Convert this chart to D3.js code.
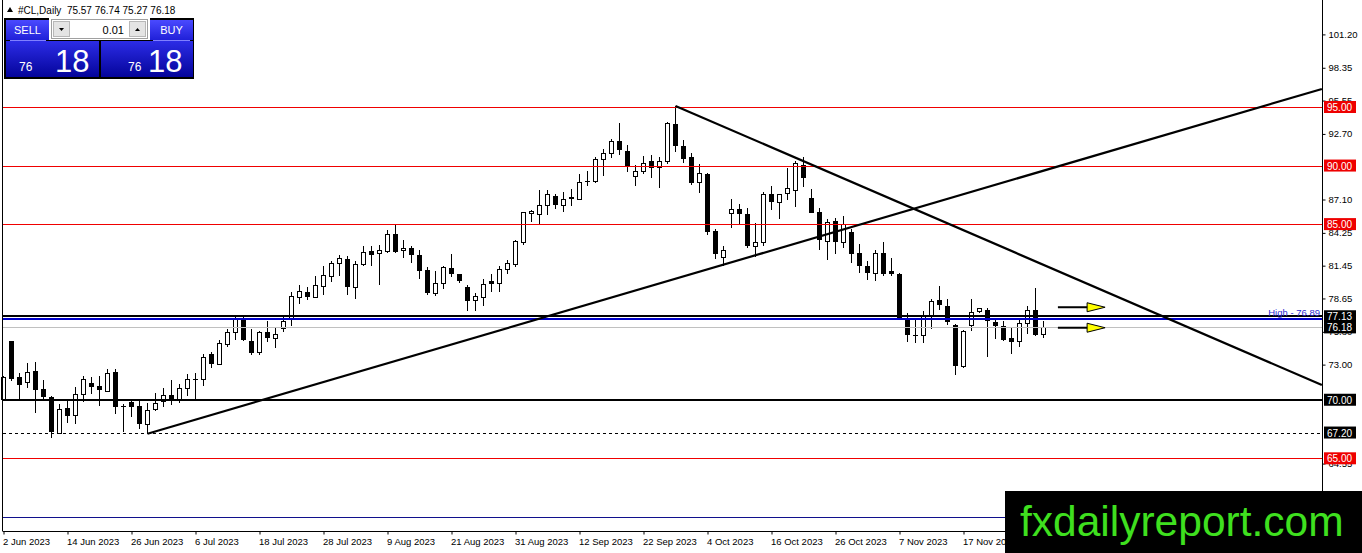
<!DOCTYPE html>
<html>
<head>
<meta charset="utf-8">
<script src="https://cdnjs.cloudflare.com/ajax/libs/d3/7.8.5/d3.min.js"></script>
<style>
  body { margin: 0; background: #fff; }
  svg { display: block; }
  text { font-family: "Liberation Sans", Arial, sans-serif; }
</style>
</head>
<body>
<div id="svg-div"></div>
<script>
// daily candles, one per weekday starting 2 Jun 2023
const opens = [70.04,75.00,71.94,71.51,72.45,70.89,70.23,67.12,69.27,68.68,
  70.46,71.46,71.17,70.74,72.36,69.47,69.81,69.47,67.92,69.19,
  69.81,70.38,70.04,70.98,71.80,71.74,73.91,73.02,74.72,75.71,
  76.98,75.00,74.00,75.77,75.20,76.05,76.93,78.74,79.20,78.77,
  79.68,80.53,81.61,82.00,79.62,81.58,82.72,82.46,82.66,84.17,
  82.72,83.00,82.38,81.10,79.11,79.91,81.24,80.73,79.60,78.46,
  78.77,80.11,79.91,81.15,81.53,83.43,85.90,85.78,86.57,87.40,
  86.63,87.34,87.11,88.70,88.62,90.55,91.03,92.08,91.23,89.10,
  89.47,90.38,89.81,90.32,93.53,91.68,90.74,88.53,89.32,84.42,
  82.17,85.87,86.30,85.87,83.09,83.43,87.57,86.86,87.62,87.91,
  90.04,87.26,86.06,83.51,85.27,83.43,84.30,82.57,81.38,80.81,
  82.57,81.02,80.76,76.98,75.57,75.49,77.13,78.49,78.04,76.42,
  72.81,76.36,77.50,77.64,76.62,76.28,75.28,74.94,76.50,77.70,
  75.57];
const highs = [72.00,75.05,72.30,73.15,73.24,71.68,70.30,69.62,69.96,71.09,
  72.02,71.96,72.02,72.59,72.59,69.64,69.96,69.90,69.76,70.60,
  71.03,71.68,71.37,72.17,72.25,73.91,74.06,75.06,76.05,77.27,
  77.19,76.00,75.91,76.70,76.13,77.19,79.20,79.83,79.60,80.53,
  81.38,81.87,82.38,82.29,81.87,83.17,83.17,83.23,84.51,84.93,
  83.65,83.09,82.80,81.30,80.96,81.44,82.43,80.75,79.83,79.11,
  80.34,80.73,81.38,81.95,83.65,86.06,86.20,87.91,87.91,87.54,
  87.77,88.00,89.32,89.53,90.74,91.45,92.25,93.64,91.79,90.04,
  90.83,90.89,90.74,93.72,95.09,92.17,91.03,90.17,89.40,84.60,
  83.17,87.14,86.72,86.34,85.13,87.77,88.28,87.60,89.75,90.38,
  90.74,87.96,86.34,85.44,85.50,85.72,84.60,83.28,81.81,82.80,
  83.51,82.09,80.81,77.41,76.98,77.61,78.63,79.68,78.63,76.47,
  75.94,78.63,77.85,77.83,76.93,76.76,76.19,76.98,77.98,79.54,
  76.74];
const lows = [69.90,71.60,70.04,70.97,68.90,70.04,66.72,67.05,68.00,67.92,
  69.84,70.46,69.47,70.66,68.82,67.28,68.54,67.50,67.07,69.04,
  69.42,69.55,69.75,70.32,70.04,71.17,72.73,72.98,74.52,75.14,
  75.00,73.78,73.78,74.91,74.43,75.77,76.34,78.21,78.49,78.68,
  78.97,80.02,80.53,78.97,78.63,81.38,81.44,79.83,82.51,82.51,
  82.09,81.66,80.34,78.97,78.89,79.49,80.45,79.96,77.55,77.55,
  77.98,79.20,79.20,80.73,81.30,83.23,85.15,84.93,85.78,86.30,
  86.06,86.57,87.06,88.25,88.47,89.13,90.66,90.89,89.47,88.25,
  89.24,88.90,88.05,90.17,91.17,90.23,88.34,87.68,84.08,82.04,
  81.38,84.70,84.98,82.94,82.23,83.17,86.21,85.44,87.06,86.49,
  88.19,85.92,82.80,81.95,82.43,83.00,81.66,80.81,80.25,80.11,
  80.53,80.53,76.98,74.94,74.86,74.86,76.08,77.70,76.36,72.11,
  72.73,75.85,77.45,73.64,75.23,75.00,73.92,74.49,75.62,75.43,
  75.27];
const closes = [71.88,71.74,71.26,72.36,70.83,70.26,67.28,69.19,68.57,70.46,
  71.74,71.12,70.83,72.25,69.42,69.45,69.42,67.92,69.11,69.70,
  70.38,69.96,70.98,71.74,71.74,73.57,73.09,74.77,75.71,76.98,
  75.09,74.00,75.71,75.28,75.57,76.70,78.83,79.26,78.77,79.74,
  80.59,81.61,82.04,79.62,81.58,82.57,82.38,82.74,84.08,82.66,
  82.94,82.38,80.96,79.11,79.96,81.32,80.73,80.11,78.40,78.83,
  79.88,79.88,81.15,81.61,83.51,85.98,86.05,86.63,87.49,86.63,
  87.06,87.14,88.56,88.56,90.55,91.03,92.08,91.31,89.89,89.47,
  90.17,89.81,90.38,93.58,91.66,90.60,88.47,89.32,84.36,82.46,
  82.72,86.21,85.87,83.09,83.43,87.57,86.86,87.57,88.05,90.17,
  88.90,85.98,83.66,85.15,83.43,84.98,82.43,81.38,80.81,82.51,
  80.76,80.76,76.98,75.49,75.43,77.21,78.40,78.12,76.64,72.87,
  75.79,77.47,77.75,76.70,76.28,75.06,74.94,76.50,77.61,75.49,
  76.18];

// date labels, one every 8 bars
const dateLabels = ['2 Jun 2023', '14 Jun 2023', '26 Jun 2023', '6 Jul 2023', '18 Jul 2023',
  '28 Jul 2023', '9 Aug 2023', '21 Aug 2023', '31 Aug 2023', '12 Sep 2023', '22 Sep 2023',
  '4 Oct 2023', '16 Oct 2023', '26 Oct 2023', '7 Nov 2023', '17 Nov 2023'];
// price scale labels (the ones not hidden behind level tags)
const priceTicks = [101.20, 98.35, 95.55, 92.70, 87.10, 84.25, 81.45, 78.65, 75.80,
  73.00, 64.55];

// horizontal levels
const redLevels = [95.00, 90.00, 85.00, 65.00];
const resistance = 77.13;
const sessionHigh = 76.89;
const bidPrice = 76.18;
const support = 70.00;
const dashedSupport = 67.20;
const blueLevel = 60.00;

// trendlines [barIndex, price]
const trendUp = [[18, 67.10], [164.8, 96.54]];
const trendDown = [[84, 95.09], [164.8, 71.26]];
// arrows: start bar, end bar, price
const arrows = [[131.8, 137.7, 77.90], [131.8, 137.7, 76.15]];

const width = 1362;
const height = 553;
const plotLeft = 2.5;
const plotRight = 1322;
const plotBottom = 531;

const xScale = d3.scaleLinear()
                 .domain([0, 130])
                 .range([3.5, 1043.5]);
const yScale = d3.scaleLinear()
                 .domain([95, 65])
                 .range([107, 458.3]);

const svg = d3.select('#svg-div')
              .append('svg')
                .attr('width', width)
                .attr('height', height);

svg.append('rect').attr('width', width).attr('height', height).attr('fill', '#fff');

const candles = opens.map((o, i) => ({i: i, o: o, h: highs[i], l: lows[i], c: closes[i]}));

// candles
const chart = svg.append('g').attr('shape-rendering', 'crispEdges');
chart.selectAll('line.wick')
     .data(candles)
     .enter()
       .append('line')
         .attr('x1', d => xScale(d.i))
         .attr('x2', d => xScale(d.i))
         .attr('y1', d => yScale(d.h))
         .attr('y2', d => yScale(d.l))
         .attr('stroke', '#000')
         .attr('stroke-width', 1);

chart.selectAll('rect.body')
     .data(candles)
     .enter()
       .append('rect')
         .attr('x', d => d.c >= d.o ? xScale(d.i) - 2 : xScale(d.i) - 2.5)
         .attr('width', d => d.c >= d.o ? 4 : 5)
         .attr('y', d => yScale(Math.max(d.o, d.c)))
         .attr('height', d => Math.max(1, Math.abs(yScale(d.o) - yScale(d.c))))
         .attr('fill', d => d.c >= d.o ? '#fff' : '#000')
         .attr('stroke', d => d.c >= d.o ? '#000' : 'none')
         .attr('stroke-width', 1);

// horizontal lines
const lines = svg.append('g').attr('shape-rendering', 'crispEdges');
const hline = (price, color, w, dash) => {
    const y = Math.round(yScale(price)) + (w % 2 ? 0.5 : 0);
    lines.append('line')
         .attr('x1', plotLeft).attr('x2', plotRight)
         .attr('y1', y).attr('y2', y)
         .attr('stroke', color)
         .attr('stroke-width', w)
         .attr('stroke-dasharray', dash || null);
};
hline(bidPrice, '#c0c0c0', 1);
redLevels.forEach(p => hline(p, '#f00000', 1));
hline(resistance, '#000', 2);
hline(sessionHigh, '#0000c8', 2);
hline(support, '#000', 2);
hline(dashedSupport, '#000', 1, '3,3');
hline(blueLevel, '#10108c', 1);

svg.append('text')
   .attr('x', 1320)
   .attr('y', yScale(sessionHigh) - 3)
   .attr('text-anchor', 'end')
   .attr('font-size', 9.5)
   .attr('fill', '#2b2bd0')
   .text('High - ' + sessionHigh.toFixed(2));

// trendlines
[trendUp, trendDown].forEach(t => {
    svg.append('line')
       .attr('x1', xScale(t[0][0])).attr('y1', yScale(t[0][1]))
       .attr('x2', xScale(t[1][0])).attr('y2', yScale(t[1][1]))
       .attr('stroke', '#000')
       .attr('stroke-width', 2.2);
});

// arrows
arrows.forEach(a => {
    const x1 = xScale(a[0]);
    const x2 = xScale(a[1]);
    const y = yScale(a[2]);
    svg.append('line')
       .attr('x1', x1).attr('x2', x2 - 17)
       .attr('y1', y).attr('y2', y)
       .attr('stroke', '#000')
       .attr('stroke-width', 2);
    svg.append('path')
       .attr('d', `M${x2 - 18},${y - 4.5}L${x2},${y}L${x2 - 18},${y + 4.5}Z`)
       .attr('fill', '#ffff00')
       .attr('stroke', '#000')
       .attr('stroke-width', 1);
});

// frame
svg.append('line').attr('x1', plotLeft).attr('x2', plotLeft).attr('y1', 0).attr('y2', plotBottom)
   .attr('stroke', '#000');
svg.append('line').attr('x1', plotRight + 0.5).attr('x2', plotRight + 0.5).attr('y1', 0).attr('y2', plotBottom)
   .attr('stroke', '#000');

// y-axis
const yAxis = svg.append('g')
                 .attr('transform', `translate(${plotRight + 0.5}, 0)`)
                 .call(d3.axisRight(yScale)
                         .tickValues(priceTicks)
                         .tickSize(3)
                         .tickPadding(3)
                         .tickFormat(d3.format('.2f')));
yAxis.select('.domain').remove();
yAxis.selectAll('text').attr('font-size', 9.5).attr('font-family', '"Liberation Sans", Arial, sans-serif').attr('fill', '#000');

// level labels on the price scale
const levelTags = redLevels.map(p => ({p: p, red: true}))
    .concat([resistance, bidPrice, support, dashedSupport].map(p => ({p: p, red: false})));
const tags = svg.append('g').selectAll('g')
                .data(levelTags)
                .enter()
                  .append('g')
                    .attr('transform', d => `translate(${plotRight + 2}, ${yScale(d.p)})`);
tags.append('rect')
    .attr('x', 0).attr('y', -6)
    .attr('width', 32).attr('height', 12)
    .attr('fill', d => d.red ? '#ee0000' : '#000');
tags.append('text')
    .attr('x', 3).attr('y', 4)
    .attr('font-size', 10)
    .attr('fill', '#fff')
    .text(d => d.p.toFixed(2));

// x-axis
svg.append('line').attr('x1', plotLeft).attr('x2', plotRight).attr('y1', plotBottom + 0.5).attr('y2', plotBottom + 0.5)
   .attr('stroke', '#000');
const xAxis = svg.append('g')
                 .attr('transform', `translate(0, ${plotBottom + 0.5})`)
                 .call(d3.axisBottom(xScale)
                         .tickValues(dateLabels.map((d, i) => i * 8))
                         .tickSize(3)
                         .tickPadding(4)
                         .tickFormat((d, i) => dateLabels[i]));
xAxis.select('.domain').remove();
xAxis.selectAll('text')
     .attr('text-anchor', 'start')
     .attr('x', -1)
     .attr('font-size', 9.5)
     .attr('font-family', '"Liberation Sans", Arial, sans-serif')
     .attr('fill', '#000');

// chart title
const last = opens.length - 1;
svg.append('path').attr('d', 'M7,12L10,7L13,12Z').attr('fill', '#000');
svg.append('text')
   .attr('x', 18).attr('y', 14)
   .attr('font-size', 10)
   .attr('fill', '#000')
   .style('white-space', 'pre')
   .text(`#CL,Daily  ${opens[last].toFixed(2)} ${highs[last].toFixed(2)} ${lows[last].toFixed(2)} ${closes[last].toFixed(2)}`);

// one-click trading panel
const defs = svg.append('defs');
const grad = (id, c1, c2) => {
    const g = defs.append('linearGradient').attr('id', id).attr('x1', 0).attr('x2', 0).attr('y1', 0).attr('y2', 1);
    g.append('stop').attr('offset', '0%').attr('stop-color', c1);
    g.append('stop').attr('offset', '100%').attr('stop-color', c2);
};
grad('head', '#4a4aff', '#2020d8');
grad('big', '#2c2ce6', '#04049a');

const panel = svg.append('g');
panel.append('rect').attr('x', 4).attr('y', 18).attr('width', 190).attr('height', 61).attr('fill', '#000');
panel.append('rect').attr('x', 49).attr('y', 18).attr('width', 101).attr('height', 22).attr('fill', '#fff');
panel.append('rect').attr('x', 6).attr('y', 20).attr('width', 43).attr('height', 20).attr('fill', 'url(#head)');
panel.append('rect').attr('x', 150).attr('y', 20).attr('width', 43).attr('height', 20).attr('fill', 'url(#head)');
panel.append('rect').attr('x', 51.5).attr('y', 19.5).attr('width', 96).attr('height', 19).attr('fill', '#fff').attr('stroke', '#a0a0a0');
panel.append('rect').attr('x', 53.5).attr('y', 21.5).attr('width', 16).attr('height', 15).attr('fill', '#e4e4e4').attr('stroke', '#b8b8b8');
panel.append('rect').attr('x', 129.5).attr('y', 21.5).attr('width', 16).attr('height', 15).attr('fill', '#e4e4e4').attr('stroke', '#b8b8b8');
panel.append('path').attr('d', 'M59,28L64,28L61.5,31Z').attr('fill', '#000');
panel.append('path').attr('d', 'M135,31L140,31L137.5,28Z').attr('fill', '#000');
panel.append('text').attr('x', 124).attr('y', 34).attr('text-anchor', 'end').attr('font-size', 11).attr('fill', '#000').text('0.01');
panel.append('text').attr('x', 27.5).attr('y', 34).attr('text-anchor', 'middle').attr('font-size', 11).attr('fill', '#fff').text('SELL');
panel.append('text').attr('x', 171.5).attr('y', 34).attr('text-anchor', 'middle').attr('font-size', 11).attr('fill', '#fff').text('BUY');
panel.append('rect').attr('x', 6).attr('y', 41).attr('width', 93).attr('height', 36).attr('fill', 'url(#big)');
panel.append('rect').attr('x', 101).attr('y', 41).attr('width', 92).attr('height', 36).attr('fill', 'url(#big)');
panel.append('line').attr('x1', 10).attr('x2', 46).attr('y1', 40.5).attr('y2', 40.5).attr('stroke', '#8080ff');
panel.append('line').attr('x1', 153).attr('x2', 190).attr('y1', 40.5).attr('y2', 40.5).attr('stroke', '#8080ff');
const bidBig = closes[last].toFixed(2).split('.');
[[19, 55], [128, 148]].forEach(p => {
    panel.append('text').attr('x', p[0]).attr('y', 71).attr('font-size', 12).attr('fill', '#fff').text(bidBig[0]);
    panel.append('text').attr('x', p[1]).attr('y', 72).attr('font-size', 31).attr('fill', '#fff').text(bidBig[1]);
});

// watermark
svg.append('rect').attr('x', 1005).attr('y', 491).attr('width', 357).attr('height', 62).attr('fill', '#000');
svg.append('text')
   .attr('x', 1020).attr('y', 536)
   .attr('font-size', 42.5)
   .attr('fill', '#3fe01f')
   .text('fxdailyreport.com');
</script>
</body>
</html>
